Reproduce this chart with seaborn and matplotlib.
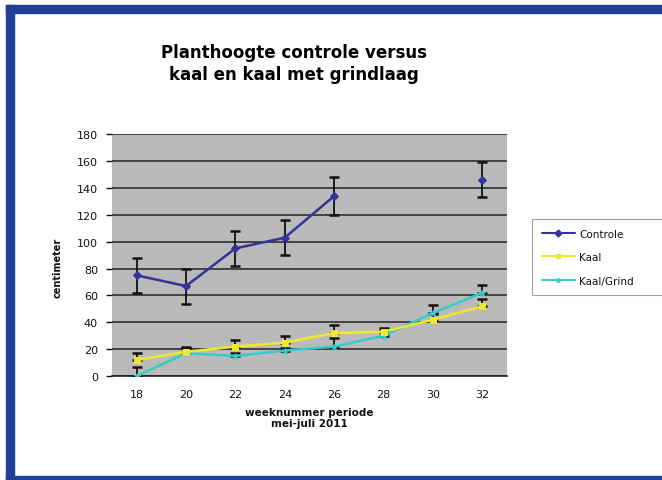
import numpy as np
import pandas as pd
import seaborn as sns
import matplotlib
matplotlib.use("Agg")
import matplotlib.pyplot as plt
from matplotlib.lines import Line2D
from matplotlib.patches import Rectangle

weeks = ["18", "20", "22", "24", "26", "28", "30", "32"]
controle = [75, 67, 95, 103, 134, np.nan, np.nan, 146]
controle_err = [13, 13, 13, 13, 14, np.nan, np.nan, 13]
kaal = [12, 18, 22, 25, 32, 33, 42, 52]
kaal_err = [5, 4, 5, 5, 6, 3, 4, 5]
grind = [0, 17, 15, 19, 22, 30, 47, 62]
grind_err = [7, 4, 2, 2, 6, 4, 6, 6]
series_names = ["Controle", "Kaal", "Kaal/Grind"]
colors = {"Controle": "#333399", "Kaal": "#f0e830", "Kaal/Grind": "#33cccc"}
markers = {"Controle": "D", "Kaal": "s", "Kaal/Grind": "*"}

sns.set_theme(style="white")
plt.rcParams["font.family"] = ["DejaVu Sans"]
plt.rcParams["text.color"] = "#111111"
plt.rcParams["axes.labelcolor"] = "#111111"

rows = []
for name, vals in zip(series_names, [controle, kaal, grind]):
    seg = 0
    prev_nan = False
    for i, v in enumerate(vals):
        if np.isnan(v):
            prev_nan = True
            continue
        if prev_nan:
            seg += 1
            prev_nan = False
        rows.append({"pos": i, "val": v, "series": name, "seg": seg})
df = pd.DataFrame(rows)

fig = plt.figure(figsize=(6.62, 4.81), dpi=100)
fig.patch.set_facecolor("white")
ax = fig.add_axes([0.169, 0.216, 0.597, 0.503])
ax.set_facecolor("#bababa")

# error bars (control symmetric, bare-soil series plus-only)
pos = np.arange(len(weeks))
for vals, errs, sym in [(controle, controle_err, True), (kaal, kaal_err, False),
                        (grind, grind_err, False)]:
    v = np.array(vals, dtype=float)
    e = np.array(errs, dtype=float)
    m = ~np.isnan(v)
    yerr = e[m] if sym else np.vstack([np.zeros(m.sum()), e[m]])
    ax.errorbar(pos[m], v[m], yerr=yerr, fmt="none", ecolor="#111111",
                elinewidth=1.3, capsize=3.5, capthick=1.8, zorder=3)

for name in ["Kaal/Grind", "Kaal", "Controle"]:
    sub = df[df["series"] == name]
    sns.lineplot(data=sub, x="pos", y="val", units="seg", estimator=None,
                 color=colors[name], marker=markers[name], markersize=4.5,
                 markeredgecolor=colors[name], linewidth=1.8, ax=ax,
                 legend=False, zorder=4)

ax.set_xlim(-0.5, len(weeks) - 0.5)
ax.set_ylim(0, 180)
ax.set_yticks(np.arange(0, 181, 20))
ax.set_xticks(pos)
ax.set_xticklabels(weeks)
ax.yaxis.grid(True, color="#3a3a3a", linewidth=1.3)
ax.set_axisbelow(True)
for s in ["top", "right", "left"]:
    ax.spines[s].set_visible(False)
ax.spines["bottom"].set_color("#222222")
ax.spines["bottom"].set_linewidth(1.2)
ax.tick_params(axis="y", labelsize=8, colors="#111111", length=4, width=1,
               pad=6, left=True)
ax.tick_params(axis="x", labelsize=8, colors="#111111", length=0, pad=9)
ax.set_xlabel("weeknummer periode\nmei-juli 2011", fontsize=7.5,
              fontweight="bold", labelpad=6, linespacing=1.15)
ax.set_ylabel("centimeter", fontsize=7, fontweight="bold")
ax.yaxis.set_label_coords(-0.125, 0.45)

fig.text(0.444, 0.867, "Planthoogte controle versus\nkaal en kaal met grindlaag",
         ha="center", va="center", fontsize=12, fontweight="bold",
         linespacing=1.3, color="#000000")

handles = [Line2D([], [], color=colors[n], marker=markers[n], markersize=3.5,
                  linewidth=1.5) for n in series_names]
leg = fig.legend(handles, series_names, loc="upper left",
                 bbox_to_anchor=(0.796, 0.39, 0.215, 0.163), mode="expand",
                 fontsize=7.5, frameon=True,
                 fancybox=False, edgecolor="#888888", borderpad=0.9,
                 labelspacing=1.3, handlelength=3.2, handletextpad=0.4)
leg.get_frame().set_linewidth(0.8)

# blue frame
frame_col = "#203f96"
fig.add_artist(Rectangle((6 / 662, 1 - 14 / 481), 1, 8 / 481,
                         transform=fig.transFigure, color=frame_col, zorder=10))
fig.add_artist(Rectangle((6 / 662, 0), 8 / 662, 1 - 6 / 481,
                         transform=fig.transFigure, color=frame_col, zorder=10))
fig.add_artist(Rectangle((6 / 662, 0), 1, 4 / 481,
                         transform=fig.transFigure, color=frame_col, zorder=10))

fig.savefig("out.png", dpi=100)
